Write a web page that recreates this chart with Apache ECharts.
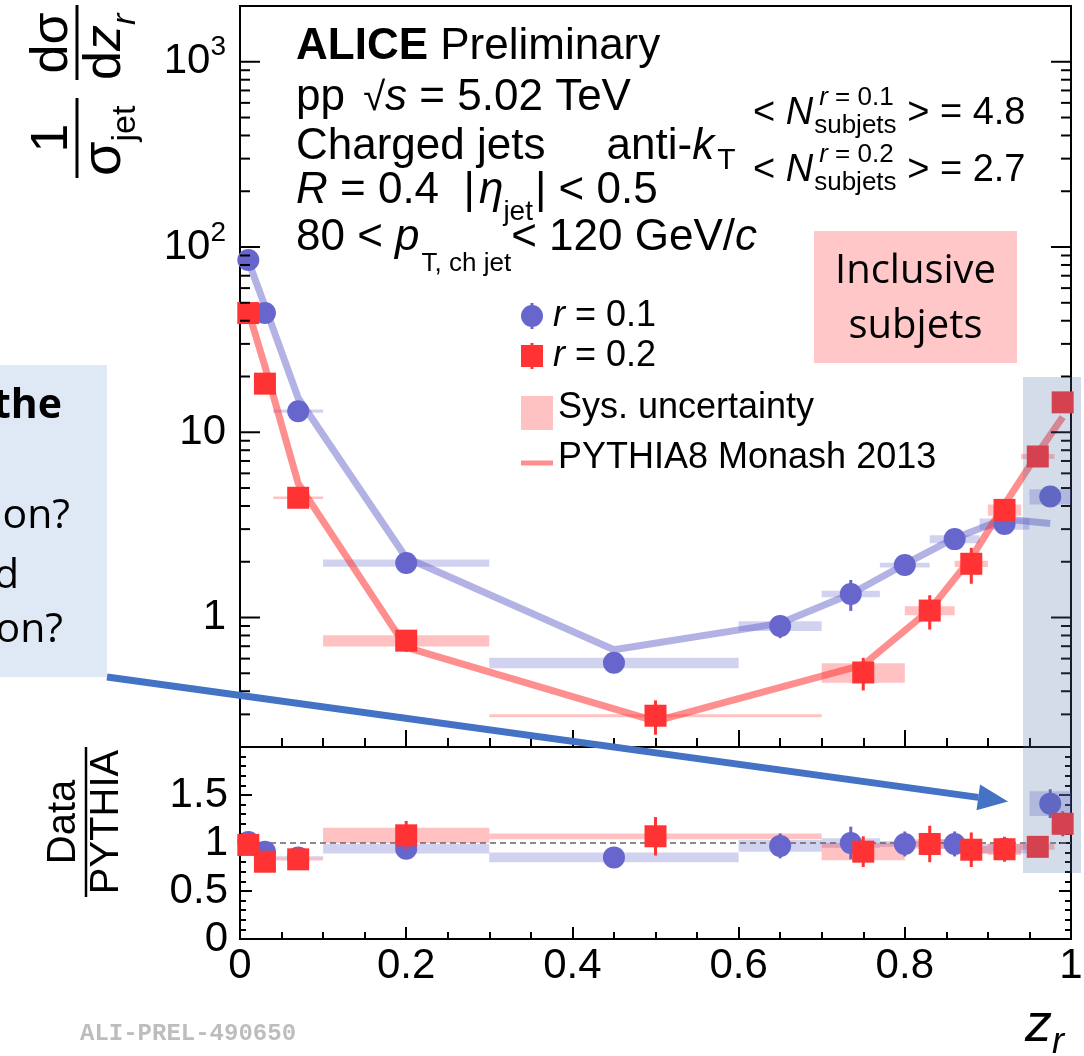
<!DOCTYPE html>
<html>
<head>
<meta charset="utf-8">
<script src="https://cdn.jsdelivr.net/npm/echarts@6/dist/echarts.min.js"></script>
<style>html,body{margin:0;padding:0;background:#fff}#c{width:1084px;height:1056px}</style>
</head>
<body>
<div id="c"></div>
<script>
// ---- r = 0.1 subjets: bin centres, bin edges, cross section, uncertainties ----
const r1Z     = [0.01, 0.03, 0.07, 0.2, 0.45, 0.65, 0.735, 0.80, 0.86, 0.92, 0.975];
const r1Lo    = [0.00, 0.02, 0.04, 0.1, 0.30, 0.60, 0.70, 0.77, 0.83, 0.89, 0.95];
const r1Hi    = [0.02, 0.04, 0.10, 0.3, 0.60, 0.70, 0.77, 0.83, 0.89, 0.95, 1.00];
const r1Val   = [85, 44, 13.0, 1.97, 0.57, 0.90, 1.34, 1.92, 2.65, 3.2, 4.5];
const r1Stat  = [0.01, 0.01, 0.01, 0.02, 0.05, 0.14, 0.19, 0.12, 0.12, 0.10, 0.12]; // relative
const r1Sys   = [0.02, 0.02, 0.02, 0.045, 0.065, 0.06, 0.04, 0.03, 0.05, 0.07, 0.095]; // relative
const r1Pythia = [84, 48, 15.3, 2.1, 0.67, 0.93, 1.34, 1.94, 2.68, 3.4, 3.22];
const r1Ratio     = [1.01, 0.91, 0.85, 0.94, 0.85, 0.97, 1.00, 0.99, 0.99, 0.94, 1.41];
const r1RatioStat = [0.01, 0.01, 0.01, 0.02, 0.04, 0.13, 0.17, 0.13, 0.13, 0.10, 0.15];
const r1RatioSys  = [0.02, 0.02, 0.012, 0.05, 0.05, 0.06, 0.05, 0.03, 0.05, 0.05, 0.13];

// ---- r = 0.2 subjets ----
const r2Z     = [0.01, 0.03, 0.07, 0.2, 0.5, 0.75, 0.83, 0.88, 0.92, 0.96, 0.99];
const r2Lo    = [0.00, 0.02, 0.04, 0.1, 0.3, 0.70, 0.80, 0.86, 0.90, 0.94, 0.98];
const r2Hi    = [0.02, 0.04, 0.10, 0.3, 0.7, 0.80, 0.86, 0.90, 0.94, 0.98, 1.00];
const r2Val   = [44, 18.3, 4.43, 0.75, 0.295, 0.505, 1.09, 1.95, 3.81, 7.4, 14.5];
const r2Stat  = [0.01, 0.01, 0.02, 0.13, 0.21, 0.20, 0.21, 0.22, 0.13, 0.08, 0.12];
const r2Sys   = [0.02, 0.02, 0.015, 0.07, 0.02, 0.12, 0.055, 0.04, 0.07, 0.03, 0.05];
const r2Pythia = [45, 22.7, 5.3, 0.69, 0.276, 0.555, 1.10, 2.1, 4.07, 7.7, 12.1];
const r2Ratio     = [0.98, 0.805, 0.83, 1.08, 1.07, 0.91, 0.99, 0.93, 0.935, 0.96, 1.2];
const r2RatioStat = [0.02, 0.02, 0.02, 0.15, 0.20, 0.16, 0.19, 0.18, 0.13, 0.08, 0.13];
const r2RatioSys  = [0.02, 0.02, 0.012, 0.08, 0.03, 0.09, 0.05, 0.04, 0.06, 0.03, 0.05];

// tick labels of the lower x axis
const xTickLabels = ['0', '0.2', '0.4', '0.6', '0.8', '1'];

const F = '"Liberation Sans", Arial, Helvetica, sans-serif';
const BLUE = '#6666cc', RED = '#ff3333';
const BLUE_SYS = 'rgba(102,102,204,0.30)', RED_SYS = 'rgba(255,51,51,0.30)';
const BLUE_MC = 'rgba(102,102,204,0.50)', RED_MC = 'rgba(255,51,51,0.55)';

// minor + major ticks of the logarithmic axis (drawn on both frame sides)
const logTicks = [];
[0.1, 1, 10, 100, 1000].forEach(d => {
  for (let k = 1; k <= 9; k++) {
    const v = +(k * d).toPrecision(6);
    if (v >= 0.2 && v <= 2000) logTicks.push([0, v, k === 1 ? 1 : 0]);
  }
});

// ---- helpers ----
const mctx = document.createElement('canvas').getContext('2d');
function fontStr(s) {
  return (s.it ? 'italic ' : '') + (s.b ? 'bold ' : '') + s.size + 'px ' + (s.fam || F);
}
function textEl(x, y, text, font, align, fill) {
  return {
    type: 'text', x: x, y: y, silent: true, z: 50,
    style: { text: text, font: font, fill: fill || '#000', textAlign: align || 'left',
             textVerticalAlign: 'middle', align: align || 'left', verticalAlign: 'middle' }
  };
}
// lays out a run of text pieces on a common baseline; a piece marked 'top' opens a
// superscript run, and the piece marked 'bot' restarts at the same x as a subscript
function runText(x, base, segs, out) {
  let cx = x, stackX = 0;
  segs.forEach(s => {
    const f = fontStr(s);
    mctx.font = f;
    const w = mctx.measureText(s.t).width;
    let sx;
    if (s.stack === 'top') { stackX = cx; sx = cx + (s.dx || 0); }
    else if (s.stack === 'bot') { sx = stackX + (s.dx || 0); }
    else sx = cx + (s.dx || 0);
    out.push(textEl(sx, base + (s.dy || 0) - 0.3465 * s.size, s.t, f, 'left'));
    cx = (s.stack === 'bot') ? Math.max(cx, sx + w) : sx + w;
  });
  return cx;
}

function boxRender(color) {
  return function (params, api) {
    const p1 = api.coord([api.value(0), api.value(3)]);
    const p2 = api.coord([api.value(1), api.value(2)]);
    return { type: 'rect', shape: { x: p1[0], y: p1[1], width: p2[0] - p1[0], height: p2[1] - p1[1] },
             style: { fill: color } };
  };
}
function errRender(color) {
  return function (params, api) {
    const a = api.coord([api.value(0), api.value(1)]);
    const b = api.coord([api.value(0), api.value(2)]);
    return { type: 'line', shape: { x1: a[0], y1: a[1], x2: b[0], y2: b[1] },
             style: { stroke: color, lineWidth: 3 } };
  };
}
function logTickRender(params, api) {
  const v = api.value(1), major = api.value(2);
  const pL = api.coord([0, v]), pR = api.coord([1, v]);
  const len = major ? 20 : 10;
  const st = { stroke: '#000', lineWidth: 2 };
  return { type: 'group', children: [
    { type: 'line', shape: { x1: pL[0], y1: pL[1], x2: pL[0] + len, y2: pL[1] }, style: st },
    { type: 'line', shape: { x1: pR[0] - len, y1: pR[1], x2: pR[0], y2: pR[1] }, style: st }
  ] };
}

// ---- series data built from the arrays ----
const r1Boxes = r1Z.map((z, i) => [r1Lo[i], r1Hi[i], r1Val[i] * (1 - r1Sys[i]), r1Val[i] * (1 + r1Sys[i])]);
const r2Boxes = r2Z.map((z, i) => [r2Lo[i], r2Hi[i], r2Val[i] * (1 - r2Sys[i]), r2Val[i] * (1 + r2Sys[i])]);
const r1Err = r1Z.map((z, i) => [z, r1Val[i] * (1 - r1Stat[i]), r1Val[i] * (1 + r1Stat[i])]);
const r2Err = r2Z.map((z, i) => [z, r2Val[i] * (1 - r2Stat[i]), r2Val[i] * (1 + r2Stat[i])]);
const r1RBoxes = r1Z.map((z, i) => [r1Lo[i], r1Hi[i], r1Ratio[i] - r1RatioSys[i], r1Ratio[i] + r1RatioSys[i]]);
const r2RBoxes = r2Z.map((z, i) => [r2Lo[i], r2Hi[i], r2Ratio[i] - r2RatioSys[i], r2Ratio[i] + r2RatioSys[i]]);
const r1RErr = r1Z.map((z, i) => [z, r1Ratio[i] - r1RatioStat[i], r1Ratio[i] + r1RatioStat[i]]);
const r2RErr = r2Z.map((z, i) => [z, r2Ratio[i] - r2RatioStat[i], r2Ratio[i] + r2RatioStat[i]]);

// ---- text annotations ----
const G = [];
// ALICE header block
runText(296, 62, [{ t: 'ALICE', size: 44, b: 1 }, { t: ' Preliminary', size: 44 }], G);
runText(296, 113, [{ t: 'pp ', size: 44 }, { t: '\u221A', size: 40, dx: 6 }, { t: 's', size: 44, it: 1 },
                   { t: ' = 5.02 TeV', size: 44 }], G);
runText(296, 162, [{ t: 'Charged jets     anti-', size: 44 }, { t: 'k', size: 44, it: 1 },
                   { t: 'T', size: 30, dy: 9, dx: 3 }], G);
runText(296, 206, [{ t: 'R', size: 44, it: 1 }, { t: ' = 0.4  |', size: 44 }, { t: '\u03B7', size: 44, it: 1, dx: 4 },
                   { t: 'jet', size: 28, dy: 16 }, { t: '| < 0.5', size: 44, dx: 2 }], G);
runText(296, 253, [{ t: '80 < ', size: 44 }, { t: 'p', size: 44, it: 1 },
                   { t: 'T, ch jet', size: 26, dy: 20, dx: 2 }, { t: '< 120 GeV/', size: 44 },
                   { t: 'c', size: 44, it: 1 }], G);
// average number of subjets
[['0.1', '4.8', 127], ['0.2', '2.7', 184]].forEach(([r, n, base]) => {
  runText(753, base, [{ t: '< ', size: 38 }, { t: 'N', size: 38, it: 1 },
                      { t: 'r', size: 26, it: 1, dy: -20, stack: 'top', dx: 6 },
                      { t: ' = ' + r, size: 26, dy: -20 },
                      { t: 'subjets', size: 26, dy: 8, stack: 'bot', dx: 1 },
                      { t: ' > = ' + n, size: 38 }], G);
});

// axis titles
const yTitle = [];
yTitle.push({ type: 'line', shape: { x1: 32, y1: 0, x2: 112, y2: 0 }, style: { stroke: '#000', lineWidth: 3 } });
yTitle.push(textEl(72, -24, '1', '52px ' + F, 'center'));
runText(34, 47, [{ t: '\u03C3', size: 56 }, { t: 'jet', size: 34, dy: 13 }], yTitle);
yTitle.push({ type: 'line', shape: { x1: 130, y1: 0, x2: 205, y2: 0 }, style: { stroke: '#000', lineWidth: 3 } });
yTitle.push(textEl(167, -24, 'd\u03C3', '52px ' + F, 'center'));
runText(130, 47, [{ t: 'd', size: 52 }, { t: 'z', size: 52, it: 1 }, { t: 'r', size: 34, it: 1, dy: 13 }], yTitle);

const rTitle = [];
rTitle.push({ type: 'line', shape: { x1: -75, y1: 0, x2: 75, y2: 0 }, style: { stroke: '#000', lineWidth: 2.5 } });
rTitle.push(textEl(0, -22, 'Data', '40px ' + F, 'center'));
rTitle.push(textEl(0, 21, 'PYTHIA', '40px ' + F, 'center'));

const zTitle = [];
runText(1025, 1045, [{ t: 'z', size: 54, it: 1 }, { t: 'r', size: 36, it: 1, dy: 10 }], zTitle);

// side note panel, cut by the left page edge
const OS = '"Open Sans", Lato, sans-serif';
const note = [
  { type: 'rect', shape: { x: 0, y: 365, width: 107, height: 312 }, style: { fill: '#dee9f5' }, silent: true, z: 40 },
  textEl(62, 406, 'the', 'bold 41px ' + OS, 'right'),
  textEl(70, 516, 'on?', '41px ' + OS, 'right'),
  textEl(19, 576, 'd', '41px ' + OS, 'right'),
  textEl(63, 630, 'on?', '41px ' + OS, 'right')
];

// arrow pointing to the highest z_r bins of the ratio
const tip = [1008, 801.5], tail = [107, 677];
const dx = tip[0] - tail[0], dy = tip[1] - tail[1], L = Math.hypot(dx, dy);
const ux = dx / L, uy = dy / L, hb = [tip[0] - 30 * ux, tip[1] - 30 * uy];
const arrow = [
  { type: 'line', shape: { x1: tail[0], y1: tail[1], x2: hb[0], y2: hb[1] },
    style: { stroke: '#4472c4', lineWidth: 7 }, silent: true, z: 90 },
  { type: 'polygon', shape: { points: [tip, [hb[0] - 13 * uy, hb[1] + 13 * ux], [hb[0] + 13 * uy, hb[1] - 13 * ux]] },
    style: { fill: '#4472c4' }, silent: true, z: 90 }
];

const graphics = [].concat(
  G, note, arrow,
  [
    { type: 'group', x: 77, y: 210, rotation: Math.PI / 2, children: yTitle, z: 50 },
    { type: 'group', x: 86, y: 822, rotation: Math.PI / 2, children: rTitle, z: 50 },
    { type: 'rect', shape: { x: 814, y: 231, width: 203, height: 132 }, style: { fill: '#ffc7c7' }, silent: true, z: 40 },
    textEl(915.5, 272, 'Inclusive', '40px ' + OS, 'center'),
    textEl(915.5, 327, 'subjets', '40px ' + OS, 'center'),
    { type: 'rect', shape: { x: 1023, y: 377, width: 58, height: 496 },
      style: { fill: 'rgba(84,112,168,0.25)' }, silent: true, z: 95 },
    textEl(80, 1034, 'ALI-PREL-490650', 'bold 24px "Liberation Mono", monospace', 'left', '#bdbdbd')
  ],
  zTitle
);

const circIcon = 'path://M14.5,0h3v3h-3z M14.5,23h3v3h-3z M27,13A11,11,0,1,1,5,13A11,11,0,1,1,27,13z';
const sqIcon = 'path://M14.5,0h3v3h-3z M14.5,23h3v3h-3z M5,2h22v22h-22z';

const axisBlack = { lineStyle: { color: '#000', width: 2 } };
const legendText = {
  fontSize: 36, fontFamily: F, color: '#000', lineHeight: 26,
  rich: { it: { fontStyle: 'italic', fontSize: 36, fontFamily: F, color: '#000', lineHeight: 26 },
          n: { fontSize: 36, fontFamily: F, color: '#000', lineHeight: 26 } }
};

const option = {
  animation: false,
  backgroundColor: '#fff',
  textStyle: { fontFamily: F },
  grid: [
    { left: 240, top: 6, width: 831, height: 741, show: true, borderColor: '#000', borderWidth: 2,
      backgroundColor: 'transparent', outerBoundsMode: 'none', containLabel: false },
    { left: 240, top: 747, width: 831, height: 192, show: true, borderColor: '#000', borderWidth: 2,
      backgroundColor: 'transparent', outerBoundsMode: 'none', containLabel: false }
  ],
  legend: [
    { left: 521, top: 298, orient: 'vertical', itemWidth: 32, itemHeight: 26, itemGap: 4,
      selectedMode: false, padding: 0,
      data: [{ name: 'r = 0.1', icon: circIcon, itemStyle: { color: BLUE, borderWidth: 0 } },
             { name: 'r = 0.2', icon: sqIcon, itemStyle: { color: RED, borderWidth: 0 } }],
      formatter: n => '{it|r}{n|' + n.slice(1) + '}',
      textStyle: legendText },
    { left: 521, top: 390, orient: 'vertical', itemWidth: 32, itemHeight: 34, itemGap: 4,
      selectedMode: false, padding: 0,
      data: [{ name: 'Sys. uncertainty', icon: 'rect', itemStyle: { color: '#ffc2c2', borderWidth: 0 } },
             { name: 'PYTHIA8 Monash 2013', icon: 'path://M0,0h32v5h-32z',
               itemStyle: { color: '#ff8f8f', borderWidth: 0 }, lineStyle: { width: 0 } }],
      formatter: n => '{t|' + n + '}',
      textStyle: { fontSize: 36, fontFamily: F, color: '#000',
                   rich: { t: { fontSize: 36, fontFamily: F, color: '#000', lineHeight: 34, padding: [0, 0, 10, 0] } } } }
  ],
  xAxis: [
    { gridIndex: 0, type: 'value', min: 0, max: 1, interval: 0.2,
      axisLine: axisBlack, axisLabel: { show: false }, splitLine: { show: false },
      axisTick: { inside: true, length: 17, lineStyle: { color: '#000', width: 2 } },
      minorTick: { show: true, splitNumber: 4, length: 9, lineStyle: { color: '#000', width: 2 } } },
    { gridIndex: 1, type: 'value', min: 0, max: 1, interval: 0.2,
      axisLine: axisBlack, splitLine: { show: false },
      axisLabel: { fontSize: 42, fontFamily: F, color: '#000', margin: 6,
                   formatter: v => xTickLabels[Math.round(v / 0.2)] },
      axisTick: { inside: true, length: 12, lineStyle: { color: '#000', width: 2 } },
      minorTick: { show: true, splitNumber: 4, length: 7, lineStyle: { color: '#000', width: 2 } } }
  ],
  yAxis: [
    { gridIndex: 0, type: 'log', logBase: 10, min: 0.2, max: 2000,
      axisLine: axisBlack, axisTick: { show: false }, splitLine: { show: false },
      axisLabel: {
        fontSize: 42, fontFamily: F, color: '#000', margin: 14,
        showMinLabel: true, showMaxLabel: true,
        formatter: v => {
          const lg = Math.log10(v), e = Math.round(lg);
          if (Math.abs(lg - e) > 1e-6) return '';
          if (e === 0) return '1';
          if (e === 1) return '10';
          return '{b|10}{sup|' + e + '}';
        },
        rich: {
          b: { fontSize: 42, fontFamily: F, color: '#000', verticalAlign: 'middle' },
          sup: { fontSize: 28, fontFamily: F, color: '#000', verticalAlign: 'middle', padding: [0, 0, 28, 0] }
        }
      } },
    { gridIndex: 1, type: 'value', min: 0, max: 2, interval: 0.5,
      axisLine: axisBlack, splitLine: { show: false },
      axisLabel: { fontSize: 42, fontFamily: F, color: '#000', margin: 12,
                   formatter: v => (v >= 2 ? '' : String(v)) },
      axisTick: { inside: true, length: 12, lineStyle: { color: '#000', width: 2 } },
      minorTick: { show: true, splitNumber: 5, length: 6, lineStyle: { color: '#000', width: 2 } } },
    { gridIndex: 1, type: 'value', min: 0, max: 2, interval: 0.5, position: 'right',
      axisLine: axisBlack, splitLine: { show: false }, axisLabel: { show: false },
      axisTick: { inside: true, length: 12, lineStyle: { color: '#000', width: 2 } },
      minorTick: { show: true, splitNumber: 5, length: 6, lineStyle: { color: '#000', width: 2 } } }
  ],
  series: [
    // --- upper panel: cross sections ---
    { name: 'logticks', type: 'custom', xAxisIndex: 0, yAxisIndex: 0, silent: true, z: 20,
      renderItem: logTickRender, data: logTicks, encode: { x: 0, y: 1 } },
    { name: 'Sys. uncertainty', type: 'custom', xAxisIndex: 0, yAxisIndex: 0, silent: true, z: 2,
      renderItem: boxRender(BLUE_SYS), data: r1Boxes, encode: { x: [0, 1], y: [2, 3] } },
    { name: 'Sys. uncertainty', type: 'custom', xAxisIndex: 0, yAxisIndex: 0, silent: true, z: 2,
      renderItem: boxRender(RED_SYS), data: r2Boxes, encode: { x: [0, 1], y: [2, 3] } },
    { name: 'PYTHIA8 Monash 2013', type: 'line', xAxisIndex: 0, yAxisIndex: 0, silent: true, z: 3,
      symbol: 'none', data: r1Z.map((z, i) => [z, r1Pythia[i]]),
      lineStyle: { color: BLUE_MC, width: 7 }, itemStyle: { color: BLUE_MC } },
    { name: 'PYTHIA8 Monash 2013', type: 'line', xAxisIndex: 0, yAxisIndex: 0, silent: true, z: 3,
      symbol: 'none', data: r2Z.map((z, i) => [z, r2Pythia[i]]),
      lineStyle: { color: RED_MC, width: 7 }, itemStyle: { color: RED_MC } },
    { name: 'r1err', type: 'custom', xAxisIndex: 0, yAxisIndex: 0, silent: true, z: 4,
      renderItem: errRender(BLUE), data: r1Err, encode: { x: 0, y: [1, 2] } },
    { name: 'r = 0.1', type: 'scatter', xAxisIndex: 0, yAxisIndex: 0, silent: true, z: 5,
      symbol: 'circle', symbolSize: 22, itemStyle: { color: BLUE, opacity: 1 },
      data: r1Z.map((z, i) => [z, r1Val[i]]) },
    { name: 'r2err', type: 'custom', xAxisIndex: 0, yAxisIndex: 0, silent: true, z: 6,
      renderItem: errRender(RED), data: r2Err, encode: { x: 0, y: [1, 2] } },
    { name: 'r = 0.2', type: 'scatter', xAxisIndex: 0, yAxisIndex: 0, silent: true, z: 7,
      symbol: 'rect', symbolSize: 22, itemStyle: { color: RED, opacity: 1 },
      data: r2Z.map((z, i) => [z, r2Val[i]]) },

    // --- lower panel: data / PYTHIA ---
    { name: 'Sys. uncertainty', type: 'custom', xAxisIndex: 1, yAxisIndex: 1, silent: true, z: 2,
      renderItem: boxRender(BLUE_SYS), data: r1RBoxes, encode: { x: [0, 1], y: [2, 3] } },
    { name: 'Sys. uncertainty', type: 'custom', xAxisIndex: 1, yAxisIndex: 1, silent: true, z: 2,
      renderItem: boxRender(RED_SYS), data: r2RBoxes, encode: { x: [0, 1], y: [2, 3] } },
    { name: 'unity', type: 'line', xAxisIndex: 1, yAxisIndex: 1, silent: true, z: 3, symbol: 'none',
      data: [[0, 1], [1, 1]], lineStyle: { color: '#666', width: 1.5, type: [6, 4] } },
    { name: 'r1rerr', type: 'custom', xAxisIndex: 1, yAxisIndex: 1, silent: true, z: 4,
      renderItem: errRender(BLUE), data: r1RErr, encode: { x: 0, y: [1, 2] } },
    { name: 'r = 0.1', type: 'scatter', xAxisIndex: 1, yAxisIndex: 1, silent: true, z: 5,
      symbol: 'circle', symbolSize: 22, itemStyle: { color: BLUE, opacity: 1 },
      data: r1Z.map((z, i) => [z, r1Ratio[i]]) },
    { name: 'r2rerr', type: 'custom', xAxisIndex: 1, yAxisIndex: 1, silent: true, z: 6,
      renderItem: errRender(RED), data: r2RErr, encode: { x: 0, y: [1, 2] } },
    { name: 'r = 0.2', type: 'scatter', xAxisIndex: 1, yAxisIndex: 1, silent: true, z: 7,
      symbol: 'rect', symbolSize: 22, itemStyle: { color: RED, opacity: 1 },
      data: r2Z.map((z, i) => [z, r2Ratio[i]]) }
  ],
  graphic: { elements: graphics }
};

const chart = echarts.init(document.getElementById('c'), null, { renderer: 'canvas', width: 1084, height: 1056 });
chart.setOption(option);
</script>
</body>
</html>
